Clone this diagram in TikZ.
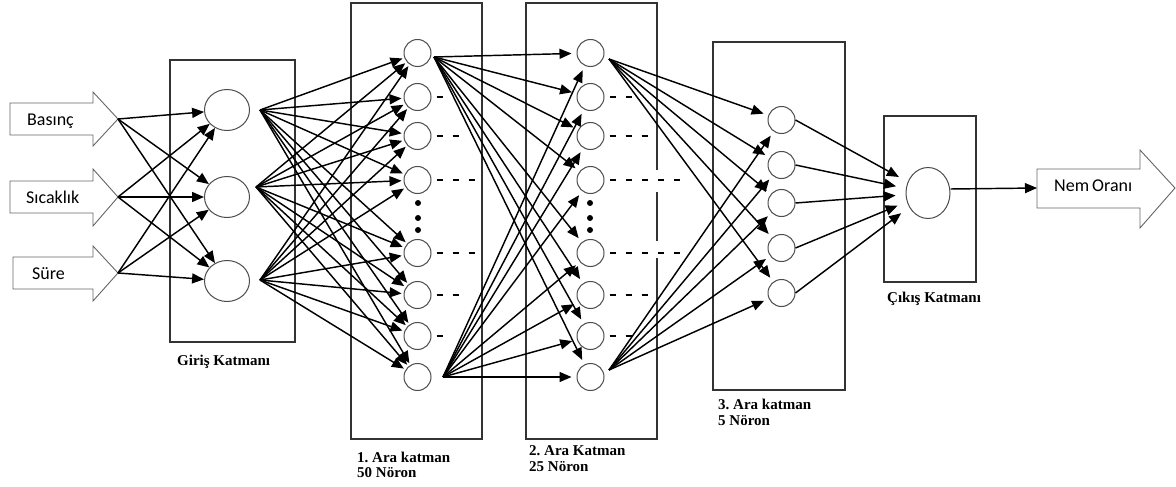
\documentclass[tikz,border=0pt]{standalone}
\usepackage{fontspec}
\setmainfont{Liberation Serif}
\newfontfamily\calib{Carlito}
\usetikzlibrary{arrows.meta,shapes.geometric}

\begin{document}
\frenchspacing
\begin{tikzpicture}[x=1pt,y=-1pt,
  conn/.style={line width=1.45pt, -{Triangle[length=12pt,width=10pt]}},
  layerbox/.style={draw=black!80, line width=1.2pt},
  neuron/.style={circle, draw=black!70, line width=1pt, minimum size=27pt, inner sep=0pt},
  bigneuron/.style={ellipse, draw=black!70, line width=1pt, inner sep=0pt},
  blockarrow/.style={draw=black!60, line width=0.9pt, fill=white},
  caption/.style={font=\fontsize{15}{16}\selectfont\bfseries, anchor=base west, inner sep=0pt},
  inlabel/.style={font=\calib\fontsize{18}{20}\selectfont, anchor=base west, inner sep=0pt},
  gapdash/.style={line width=1.8pt, dash pattern=on 6pt off 10pt},
]
\useasboundingbox (0,0) rectangle (1176,487);

% layer frames
\draw[layerbox] (170,60) rectangle (295,342);
\draw[layerbox] (351,3) rectangle (482,439);
\draw[layerbox] (526,3) rectangle (657,439);
\draw[layerbox] (713,42) rectangle (845,390);
\draw[layerbox] (884,116) rectangle (976,282);
% the long dotted rows cut through the frame of the second layer
\fill[white] (653,170) rectangle (661,192);
\fill[white] (653,241) rectangle (661,258);

% input block arrows
\draw[blockarrow] (10,103) -- (93,103) -- (93,92) -- (118,119) -- (93,146) -- (93,135) -- (10,135) -- cycle;
\draw[blockarrow] (10,181) -- (93,181) -- (93,169) -- (118,197) -- (93,226) -- (93,213) -- (10,213) -- cycle;
\draw[blockarrow] (13,257) -- (93,257) -- (93,246) -- (118,273) -- (93,301) -- (93,289) -- (13,289) -- cycle;
\node[inlabel] (basinc) at (27,125) {Basınç};
\node[inlabel] (sicaklik) at (26,203) {Sıcaklık};
\node[inlabel] (sure) at (32,279) {Süre};
\coordinate (basincTip) at (118,119);
\coordinate (sicaklikTip) at (118,197);
\coordinate (sureTip) at (118,273);

% output block arrow
\draw[blockarrow] (1037,169) -- (1140,169) -- (1140,150) -- (1175,188) -- (1140,228) -- (1140,208) -- (1037,208) -- cycle;
\node[inlabel] (nem) at (1054,191) {Nem\hspace{-1pt} Oranı};
\coordinate (nemTail) at (1037,188);

% neurons
\node[bigneuron, minimum width=45pt, minimum height=41pt] (in1) at (227,110) {};
\node[bigneuron, minimum width=45pt, minimum height=41pt] (in2) at (227,197) {};
\node[bigneuron, minimum width=45pt, minimum height=41pt] (in3) at (227,281) {};
\foreach \y [count=\j] in {53,97,136,180,253,295,336,377} {
  \node[neuron] (l1-\j) at (417.5,\y) {};
  \node[neuron] (l2-\j) at (590.5,\y) {};
}
\foreach \y [count=\k] in {120,165,203,248,293}
  \node[neuron] (l3-\k) at (781.5,\y) {};
\node[bigneuron, minimum width=44pt, minimum height=51pt] (out) at (928,193) {};

% vertical ellipsis
\foreach \y in {203,218,230} {
  \fill (418,\y) circle (3pt);
  \fill (590,\y) circle (3pt);
}

% dotted rows for the hidden neurons
\foreach \j/\n in {2/1,3/2,4/3,5/3,6/2,7/1}
  \draw[gapdash] ([xshift=5pt]l1-\j.east) -- ++({\n*16-10},0);
\foreach \j/\n in {2/2,3/3,4/5,5/5,6/3,7/2}
  \draw[gapdash] ([xshift=5pt]l2-\j.east) -- ++({\n*16-10},0);

% inputs -> input layer
\foreach \s in {basincTip,sicaklikTip,sureTip}
  \foreach \t in {in1,in2,in3}
    \draw[conn] (\s) -- (\t);

% input layer -> first hidden layer
\coordinate (i1o) at (260,110);
\coordinate (i2o) at (256,187);
\coordinate (i3o) at (260,280);
\foreach \s in {i1o,i2o,i3o}
  \foreach \j in {1,...,8}
    \draw[conn, shorten >=2pt] (\s) -- (l1-\j);

% first hidden -> second hidden
\coordinate (a1o) at (434,57);
\coordinate (a8o) at (443,377);
\foreach \s in {a1o,a8o}
  \foreach \j in {1,...,8}
    \draw[conn, shorten >=5pt] (\s) -- (l2-\j);

% second hidden -> third hidden
\coordinate (b1o) at (609,59);
\coordinate (b8o) at (609,370);
\foreach \s in {b1o,b8o}
  \foreach \k in {1,...,5}
    \draw[conn, shorten >=5pt] (\s) -- (l3-\k);

% third hidden -> output
\foreach \k in {1,...,5}
  \draw[conn, shorten >=10pt] (l3-\k.east) -- (out);
\draw[conn] ([yshift=4pt]out.east) -- (nemTail);

% captions
\node[caption] (cap0) at (177,365) {Giriş Katmanı};
\node[caption] (cap1a) at (357,462) {1. Ara katman};
\node[caption] (cap1b) at (357,477) {50 Nöron};
\node[caption] (cap2a) at (529,455) {2. Ara Katman};
\node[caption] (cap2b) at (529,471) {25 Nöron};
\node[caption] (cap3a) at (718,409) {3. Ara katman};
\node[caption] (cap3b) at (718,425) {5 Nöron};
\node[caption] (cap4) at (887,302) {Çıkış Katmanı};
\end{tikzpicture}
\end{document}
